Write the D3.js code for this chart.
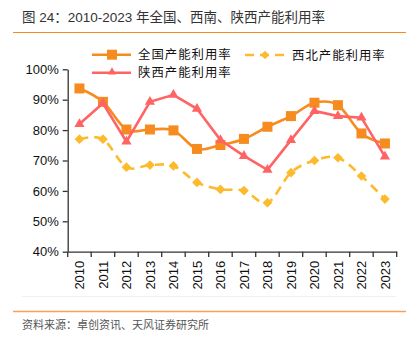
<!DOCTYPE html>
<html><head><meta charset="utf-8">
<script src="https://cdn.jsdelivr.net/npm/d3@7"></script>
<style>body{margin:0;background:#fff;}svg{display:block;font-family:"Liberation Sans","Noto Sans CJK SC",sans-serif;}</style>
</head><body>
<svg id="c" width="419" height="342"></svg>
<script>
const years = ["2010","2011","2012","2013","2014","2015","2016","2017","2018","2019","2020","2021","2022","2023"];
const national = [93.7,89.3,80.2,80.2,79.9,73.8,75.1,77.1,81.1,84.6,89.0,88.2,78.9,75.6];
const shaanxi = [82.0,88.8,76.2,89.3,91.6,87.0,76.7,71.5,66.9,76.7,86.3,84.6,84.1,71.3];
const northwest = [77.0,77.0,67.8,68.5,68.2,62.8,60.5,60.1,56.1,66.0,70.0,70.9,64.9,57.3];
const yTicks = [40,50,60,70,80,90,100];
const title = "图 24：2010-2023 年全国、西南、陕西产能利用率";
const source = "资料来源：卓创资讯、天风证券研究所";

const svg = d3.select("#c");
const cN = "#F68B1F", cS = "#FF6363", cW = "#FDBA2C";
const x = d3.scaleBand().domain(years).range([67.7, 396.7]);
const y = d3.scaleLinear().domain([40,100]).range([251.7, 69.3]);

// title
svg.append("text").attr("x",22).attr("y",22).attr("font-size",13.5).attr("fill","#333")
  .attr("font-family","'Liberation Sans','Noto Sans CJK SC',sans-serif").text(title);
svg.append("line").attr("x1",13).attr("x2",406).attr("y1",32.5).attr("y2",32.5).attr("stroke","#F68B1F").attr("stroke-width",1.2);
svg.append("line").attr("x1",22).attr("x2",396).attr("y1",296.5).attr("y2",296.5).attr("stroke","#f0f0f0").attr("stroke-width",1);
svg.append("line").attr("x1",13).attr("x2",406).attr("y1",311.5).attr("y2",311.5).attr("stroke","#F9A055").attr("stroke-width",1.5);
svg.append("text").attr("x",22).attr("y",329).attr("font-size",11).attr("fill","#555")
  .attr("font-family","'Noto Sans CJK SC',sans-serif").text(source);

// axes
const ya = svg.append("g").attr("transform","translate(67.7,0)")
  .call(d3.axisLeft(y).tickValues(yTicks).tickFormat(d=>d+"%").tickSize(5).tickSizeOuter(0));
ya.select(".domain").attr("stroke","#333").attr("stroke-width",1.3);
ya.selectAll(".tick line").attr("stroke","#333").attr("stroke-width",1.3);
ya.selectAll(".tick text").attr("font-size",13).attr("fill","#111").attr("x",-9).attr("font-family","Liberation Sans, Arial, sans-serif");

const xa = svg.append("g").attr("transform","translate(0,251.7)")
  .call(d3.axisBottom(x).tickSize(0));
xa.select(".domain").attr("stroke","#333").attr("stroke-width",1.3);
xa.selectAll(".tick text").attr("font-size",13).attr("fill","#111").attr("font-family","Liberation Sans, Arial, sans-serif")
  .attr("transform","rotate(-90)").attr("text-anchor","end").attr("x",-9).attr("y",0).attr("dy","0.35em");
// ticks between categories
const bounds = years.map(d=>x(d)).concat([x.range()[1]]);
svg.append("g").selectAll("line").data(bounds).join("line")
  .attr("x1",d=>d).attr("x2",d=>d).attr("y1",251.7).attr("y2",257).attr("stroke","#333").attr("stroke-width",1.3);

const cx = d=>x(d)+x.bandwidth()/2;
const smooth = d3.line().x((d,i)=>cx(years[i])).y(d=>y(d)).curve(d3.curveCatmullRom.alpha(0));
const lin = d3.line().x((d,i)=>cx(years[i])).y(d=>y(d));

// northwest dashed
svg.append("path").attr("d",smooth(northwest)).attr("fill","none").attr("stroke",cW).attr("stroke-width",2.6).attr("stroke-dasharray","9,6");
svg.append("g").selectAll("path").data(northwest).join("path")
  .attr("d",d3.symbol(d3.symbolDiamond2,60)).attr("fill",cW)
  .attr("transform",(d,i)=>`translate(${cx(years[i])},${y(d)})`);
// national
svg.append("path").attr("d",smooth(national)).attr("fill","none").attr("stroke",cN).attr("stroke-width",2.6);
svg.append("g").selectAll("rect").data(national).join("rect")
  .attr("x",(d,i)=>cx(years[i])-5).attr("y",d=>y(d)-5).attr("width",10).attr("height",10).attr("fill",cN);
// shaanxi
svg.append("path").attr("d",lin(shaanxi)).attr("fill","none").attr("stroke",cS).attr("stroke-width",2.6);
svg.append("g").selectAll("path").data(shaanxi).join("path")
  .attr("d",d3.symbol(d3.symbolTriangle,45)).attr("fill",cS)
  .attr("transform",(d,i)=>`translate(${cx(years[i])},${y(d)})`);

// legend
const lg = svg.append("g").attr("font-family","'Noto Sans CJK SC',sans-serif").attr("font-size",12.4).attr("letter-spacing",1).attr("fill","#111");
lg.append("line").attr("x1",92).attr("x2",131).attr("y1",54.7).attr("y2",54.7).attr("stroke",cN).attr("stroke-width",2.6);
lg.append("rect").attr("x",107).attr("y",49.7).attr("width",10).attr("height",10).attr("fill",cN);
lg.append("text").attr("x",138).attr("y",59.2).text("全国产能利用率");
lg.append("line").attr("x1",92).attr("x2",131).attr("y1",72.7).attr("y2",72.7).attr("stroke",cS).attr("stroke-width",2.6);
lg.append("path").attr("d",d3.symbol(d3.symbolTriangle,30)).attr("fill",cS).attr("transform","translate(112,72)");
lg.append("text").attr("x",138).attr("y",77.2).text("陕西产能利用率");
lg.append("line").attr("x1",245).attr("x2",285).attr("y1",55).attr("y2",55).attr("stroke",cW).attr("stroke-width",2.6).attr("stroke-dasharray","9,6").attr("stroke-dashoffset",0);
lg.append("path").attr("d",d3.symbol(d3.symbolDiamond2,45)).attr("fill",cW).attr("transform","translate(265,55)");
lg.append("text").attr("x",292).attr("y",59.5).text("西北产能利用率");
</script>
</body></html>
